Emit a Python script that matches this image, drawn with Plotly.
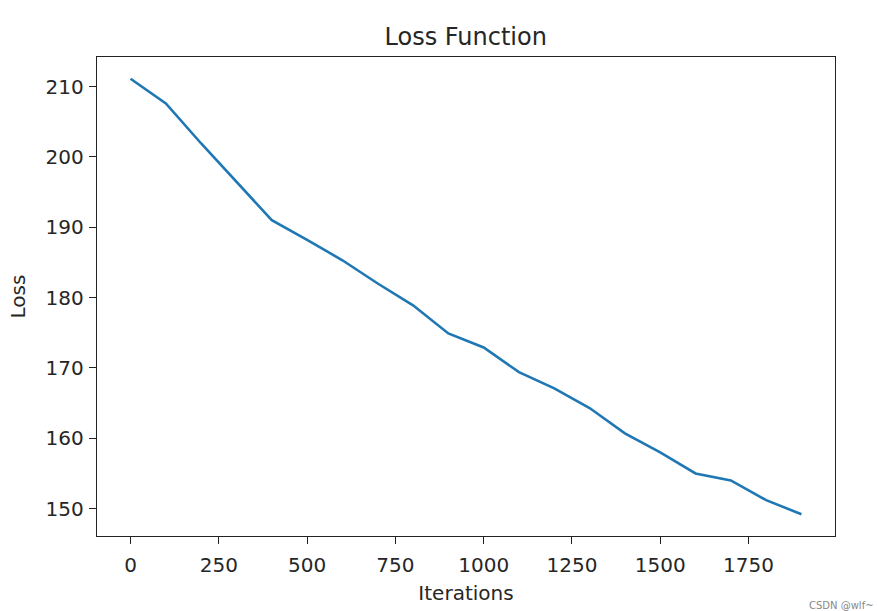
import plotly.graph_objects as go

iterations = [0, 100, 200, 300, 400, 500, 600, 700, 800, 900,
              1000, 1100, 1200, 1300, 1400, 1500, 1600, 1700, 1800, 1900]
loss = [211.1, 207.6, 201.9, 196.4, 191.0, 188.2, 185.3, 182.0, 178.9, 174.9,
        172.9, 169.4, 167.1, 164.3, 160.7, 158.0, 155.0, 154.0, 151.2, 149.2]
x_ticks = [0, 250, 500, 750, 1000, 1250, 1500, 1750]
y_ticks = [150, 160, 170, 180, 190, 200, 210]

font = "DejaVu Sans"
fig = go.Figure()
fig.add_trace(go.Scatter(x=iterations, y=loss, mode="lines",
                         line=dict(color="#1f77b4", width=2.6)))

ymin, ymax = min(loss), max(loss)
pad_y = (ymax - ymin) * 0.05
pad_x = (max(iterations) - min(iterations)) * 0.05

axis_common = dict(showline=True, linecolor="#222", linewidth=1.4, mirror=True,
                   ticks="outside", ticklen=7, tickwidth=1.4, tickcolor="#222",
                   showgrid=False, zeroline=False, automargin=False,
                   tickfont=dict(family=font, size=20, color="#262626"),
                   title_font=dict(family=font, size=20, color="#262626"))

fig.update_layout(
    width=877, height=611,
    margin=dict(l=97, r=42, t=57, b=75),
    paper_bgcolor="white", plot_bgcolor="white",
    showlegend=False,
    title=dict(text="Loss Function", x=0.531, xanchor="center", y=0.94, yanchor="middle",
               font=dict(family=font, size=24, color="#262626")),
    xaxis=dict(range=[min(iterations) - pad_x, max(iterations) + pad_x],
               tickvals=x_ticks, ticklabelstandoff=4,
               title=dict(text="Iterations", standoff=9), **axis_common),
    yaxis=dict(range=[ymin - pad_y, ymax + pad_y],
               tickvals=y_ticks, ticklabelstandoff=1,
               title=dict(text="Loss", standoff=14), **axis_common),
)
fig.add_annotation(text="CSDN @wlf~", xref="paper", yref="paper", x=1.055, y=-0.16,
                   xanchor="right", yanchor="bottom", showarrow=False,
                   font=dict(family=font, size=10, color="#888"))
fig.write_html("out.html")
